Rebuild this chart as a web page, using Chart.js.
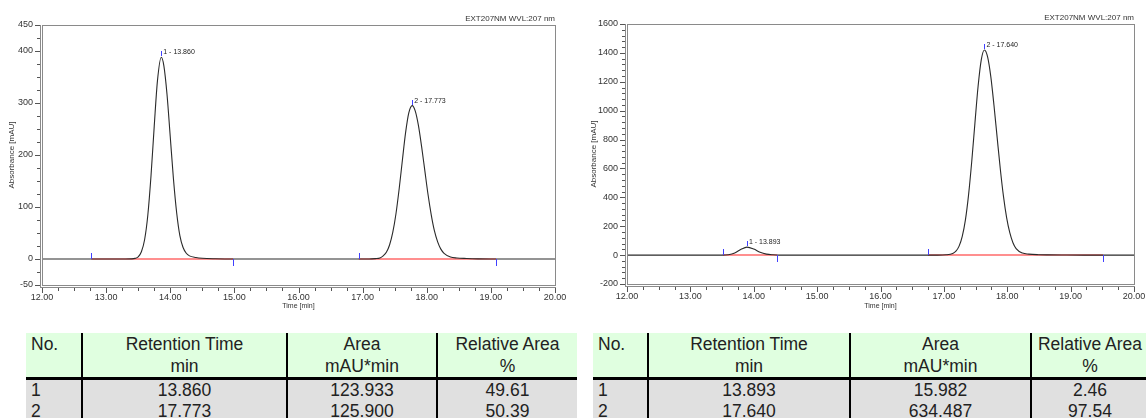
<!DOCTYPE html>
<html lang="en">
<head>
    <meta charset="UTF-8">
    <title>Chromatograms</title>
    <script src="https://cdn.jsdelivr.net/npm/chart.js"></script>
    <style>
        body {
            margin: 0;
            padding: 0;
            background: #fff;
            width: 1146px;
            height: 418px;
            overflow: hidden;
            position: relative;
            font-family: 'Liberation Sans', Arial, sans-serif;
        }
        canvas { position: absolute; top: 0; }
        #chart-left { left: 0; }
        #chart-right { left: 573px; }
        table.peaks {
            position: absolute;
            top: 333px;
            border-collapse: collapse;
            table-layout: fixed;
            font-size: 17.5px;
            color: #222;
        }
        table.peaks th, table.peaks td {
            padding: 0 5px;
            font-weight: normal;
            border-left: 2px solid #000;
            white-space: nowrap;
        }
        table.peaks th:first-child, table.peaks td:first-child { border-left: none; text-align: left; }
        table.peaks th {
            background: rgb(224, 255, 224);
            height: 43px;
            line-height: 22px;
            vertical-align: top;
            text-align: center;
            border-bottom: 3px solid #000;
        }
        table.peaks td {
            background: rgb(224, 224, 224);
            height: 21px;
            line-height: 21px;
            text-align: center;
        }
        #table-left { left: 26px; width: 551px; }
        #table-right { left: 593px; width: 555px; }
    </style>
</head>
<body>
    <canvas id="chart-left" width="570" height="315"></canvas>
    <canvas id="chart-right" width="573" height="315"></canvas>

    <table class="peaks" id="table-left">
        <colgroup><col style="width:56px"><col style="width:205px"><col style="width:150px"><col style="width:140px"></colgroup>
        <thead></thead><tbody></tbody>
    </table>
    <table class="peaks" id="table-right">
        <colgroup><col style="width:55px"><col style="width:202px"><col style="width:181px"><col style="width:117px"></colgroup>
        <thead></thead><tbody></tbody>
    </table>

    <script>
        // axis ticks
        const timeTicks = [12, 13, 14, 15, 16, 17, 18, 19, 20];
        const leftAbsTicks = [-50, 0, 100, 200, 300, 400, 450];
        const rightAbsTicks = [-200, 0, 200, 400, 600, 800, 1000, 1200, 1400, 1600];

        // left chromatogram (time in min, absorbance in mAU)
        const leftTime = [12.00, 13.30, 13.40, 13.45, 13.50, 13.55, 13.60, 13.65, 13.70, 13.75, 13.80, 13.86,
            13.90, 13.95, 14.00, 14.05, 14.10, 14.15, 14.20, 14.25, 14.30, 14.40, 14.50, 14.70, 15.00,
            17.10, 17.20, 17.27, 17.32, 17.37, 17.42, 17.47, 17.52, 17.57, 17.62, 17.67, 17.72, 17.773,
            17.82, 17.87, 17.92, 17.97, 18.02, 18.07, 18.12, 18.17, 18.22, 18.27, 18.37, 18.47, 18.62,
            18.80, 19.00, 20.00];
        const leftAbs = [0, 0, 0.3, 1.2, 4, 14, 37, 84, 160, 255, 342, 388,
            372, 316, 235, 154, 89, 45, 22, 11, 6, 3, 1.5, 0.5, 0,
            0, 0.8, 2, 6, 13, 27, 51, 87, 135, 190, 243, 281, 295,
            285, 257, 216, 170, 124, 85, 54, 33, 19, 11, 4, 2, 1,
            0.3, 0, 0];

        // right chromatogram
        const rightTime = [12.00, 13.50, 13.60, 13.70, 13.80, 13.893, 14.00, 14.10, 14.20, 14.30, 14.40,
            16.90, 17.04, 17.14, 17.19, 17.24, 17.29, 17.34, 17.39, 17.44, 17.49, 17.54, 17.59, 17.64,
            17.69, 17.74, 17.79, 17.84, 17.89, 17.94, 17.99, 18.04, 18.09, 18.14, 18.24, 18.34, 18.49,
            18.64, 18.94, 19.24, 20.00];
        const rightAbs = [0, 0, 3, 15, 40, 55, 42, 20, 7, 2, 0,
            0, 2, 11, 27, 62, 130, 244, 419, 650, 914, 1169, 1352, 1420,
            1372, 1237, 1039, 817, 598, 408, 260, 155, 86, 45, 14, 7, 3,
            1.5, 0.5, 0, 0];

        // peak tables
        const leftPeakNo = [1, 2];
        const leftRetention = ['13.860', '17.773'];
        const leftArea = ['123.933', '125.900'];
        const leftRelArea = ['49.61', '50.39'];
        const leftPeakHeight = [388, 295];
        const leftBaseStart = [12.77, 16.94];
        const leftBaseEnd = [14.98, 19.08];

        const rightPeakNo = [1, 2];
        const rightRetention = ['13.893', '17.640'];
        const rightArea = ['15.982', '634.487'];
        const rightRelArea = ['2.46', '97.54'];
        const rightPeakHeight = [55, 1420];
        const rightBaseStart = [13.51, 16.75];
        const rightBaseEnd = [14.37, 19.51];

        const headTop = ['No.', 'Retention Time', 'Area', 'Relative Area'];
        const headUnit = ['', 'min', 'mAU*min', '%'];
        const channelName = 'EXT207NM WVL:207 nm';

        const FONT = "'Liberation Sans', Arial, sans-serif";

        // frame, minor/major ticks, integration marks and peak labels
        function chromPlugin(cfg) {
            return {
                id: 'chrom',
                afterDraw(chart) {
                    const { ctx, chartArea: a, scales: { x, y } } = chart;
                    const L = Math.round(a.left), R = Math.round(a.right);
                    const T = Math.round(a.top), B = Math.round(a.bottom);
                    ctx.save();
                    // frame (double line on left and bottom)
                    ctx.fillStyle = '#8a8a8a';
                    ctx.fillRect(L, T, R - L + 1, 1);
                    ctx.fillRect(R, T, 1, B - T + 1);
                    ctx.fillRect(L, T, 1, B - T + 1);
                    ctx.fillRect(L, B, R - L + 1, 1);
                    ctx.fillRect(L - 2, T, 1, B - T + 3);
                    ctx.fillRect(L - 2, B + 2, R - L + 3, 1);

                    // ticks
                    ctx.fillStyle = '#555';
                    for (let v = cfg.yMin; v <= cfg.yMax + 0.001; v += cfg.yMinor) {
                        const py = Math.round(y.getPixelForValue(v));
                        const len = cfg.yMajor.indexOf(v) >= 0 ? 5 : 3;
                        ctx.fillRect(L - 2 - len, py, len, 1);
                    }
                    for (let i = 0; i <= 32; i++) {
                        const v = 12 + i * 0.25;
                        const px = Math.round(x.getPixelForValue(v));
                        const len = i % 4 === 0 ? 5 : 3;
                        ctx.fillRect(px, B + 3, 1, len);
                    }

                    // integration start / end marks
                    const y0 = Math.round(y.getPixelForValue(0));
                    ctx.fillStyle = '#4040ff';
                    cfg.baseStart.forEach(t => {
                        ctx.fillRect(Math.round(x.getPixelForValue(t)), y0 - 6, 1, 6);
                    });
                    cfg.baseEnd.forEach(t => {
                        ctx.fillRect(Math.round(x.getPixelForValue(t)), y0, 1, 7);
                    });
                    // peak apex marks
                    cfg.rt.forEach((t, i) => {
                        const px = Math.round(x.getPixelForValue(parseFloat(t)));
                        const py = Math.round(y.getPixelForValue(cfg.height[i]));
                        ctx.fillRect(px, py - 6, 1, 5);
                    });

                    ctx.fillStyle = '#222';
                    ctx.font = '7px ' + FONT;
                    ctx.textBaseline = 'middle';
                    ctx.textAlign = 'left';
                    cfg.rt.forEach((t, i) => {
                        const px = x.getPixelForValue(parseFloat(t));
                        const py = y.getPixelForValue(cfg.height[i]);
                        ctx.fillText(cfg.no[i] + ' - ' + t, px + 2, py - 5);
                    });

                    ctx.fillStyle = '#333';
                    ctx.font = '8px ' + FONT;
                    ctx.textAlign = 'right';
                    ctx.textBaseline = 'alphabetic';
                    ctx.fillText(channelName, R, T - 4);
                    ctx.restore();
                }
            };
        }

        function makeChart(id, time, abs, cfg) {
            const trace = time.map((t, i) => ({ x: t, y: abs[i] }));
            const datasets = [{
                data: trace,
                showLine: true,
                borderColor: '#2a2a2a',
                borderWidth: 1.1,
                pointRadius: 0,
                cubicInterpolationMode: 'monotone'
            }];
            cfg.baseStart.forEach((s, i) => {
                datasets.push({
                    data: [{ x: s, y: 0 }, { x: cfg.baseEnd[i], y: 0 }],
                    showLine: true,
                    borderColor: 'rgba(255, 90, 90, 0.9)',
                    borderWidth: 1.5,
                    pointRadius: 0
                });
            });

            new Chart(document.getElementById(id), {
                type: 'scatter',
                data: { datasets: datasets },
                plugins: [chromPlugin(cfg)],
                options: {
                    responsive: false,
                    animation: false,
                    layout: { padding: { top: cfg.top, right: cfg.right, left: 0, bottom: 0 } },
                    plugins: {
                        legend: { display: false },
                        tooltip: { enabled: false }
                    },
                    scales: {
                        x: {
                            type: 'linear',
                            min: 12,
                            max: 20,
                            afterBuildTicks: s => { s.ticks = timeTicks.map(v => ({ value: v })); },
                            afterFit: s => { s.height = cfg.xHeight; s.paddingLeft = 0; s.paddingRight = 0; },
                            grid: { display: false, drawTicks: false },
                            border: { display: false },
                            ticks: {
                                font: { size: 9, family: FONT },
                                color: '#333',
                                padding: 7,
                                maxRotation: 0,
                                autoSkip: false,
                                callback: v => v.toFixed(2)
                            },
                            title: {
                                display: true,
                                text: 'Time [min]',
                                font: { size: 7, family: FONT },
                                color: '#333',
                                padding: { top: 0, bottom: cfg.xTitlePad }
                            }
                        },
                        y: {
                            type: 'linear',
                            min: cfg.yMin,
                            max: cfg.yMax,
                            afterBuildTicks: s => { s.ticks = cfg.yMajor.map(v => ({ value: v })); },
                            afterFit: s => { s.width = cfg.yWidth; s.paddingTop = 0; s.paddingBottom = 0; },
                            grid: { display: false, drawTicks: false },
                            border: { display: false },
                            ticks: {
                                font: { size: 9, family: FONT },
                                color: '#333',
                                padding: 9,
                                autoSkip: false,
                                callback: v => String(v)
                            },
                            title: {
                                display: true,
                                text: 'Absorbance [mAU]',
                                font: { size: 8, family: FONT },
                                color: '#333',
                                padding: { top: cfg.yTitlePad, bottom: 0 }
                            }
                        }
                    }
                }
            });
        }

        makeChart('chart-left', leftTime, leftAbs, {
            top: 25, right: 15, xHeight: 30, yWidth: 42, xTitlePad: 5, yTitlePad: 7,
            yMin: -50, yMax: 450, yMajor: leftAbsTicks, yMinor: 25,
            baseStart: leftBaseStart, baseEnd: leftBaseEnd,
            rt: leftRetention, height: leftPeakHeight, no: leftPeakNo
        });
        makeChart('chart-right', rightTime, rightAbs, {
            top: 24, right: 12, xHeight: 31, yWidth: 54, xTitlePad: 5, yTitlePad: 16,
            yMin: -200, yMax: 1600, yMajor: rightAbsTicks, yMinor: 40,
            baseStart: rightBaseStart, baseEnd: rightBaseEnd,
            rt: rightRetention, height: rightPeakHeight, no: rightPeakNo
        });

        // peak tables
        function fillTable(id, no, rt, area, rel) {
            const table = document.getElementById(id);
            table.querySelector('thead').innerHTML = '<tr>' +
                headTop.map((h, i) => `<th>${h}${headUnit[i] ? '<br>' + headUnit[i] : ''}</th>`).join('') + '</tr>';
            table.querySelector('tbody').innerHTML = no.map((n, i) =>
                `<tr><td>${n}</td><td>${rt[i]}</td><td>${area[i]}</td><td>${rel[i]}</td></tr>`).join('');
        }
        fillTable('table-left', leftPeakNo, leftRetention, leftArea, leftRelArea);
        fillTable('table-right', rightPeakNo, rightRetention, rightArea, rightRelArea);
    </script>
</body>
</html>
